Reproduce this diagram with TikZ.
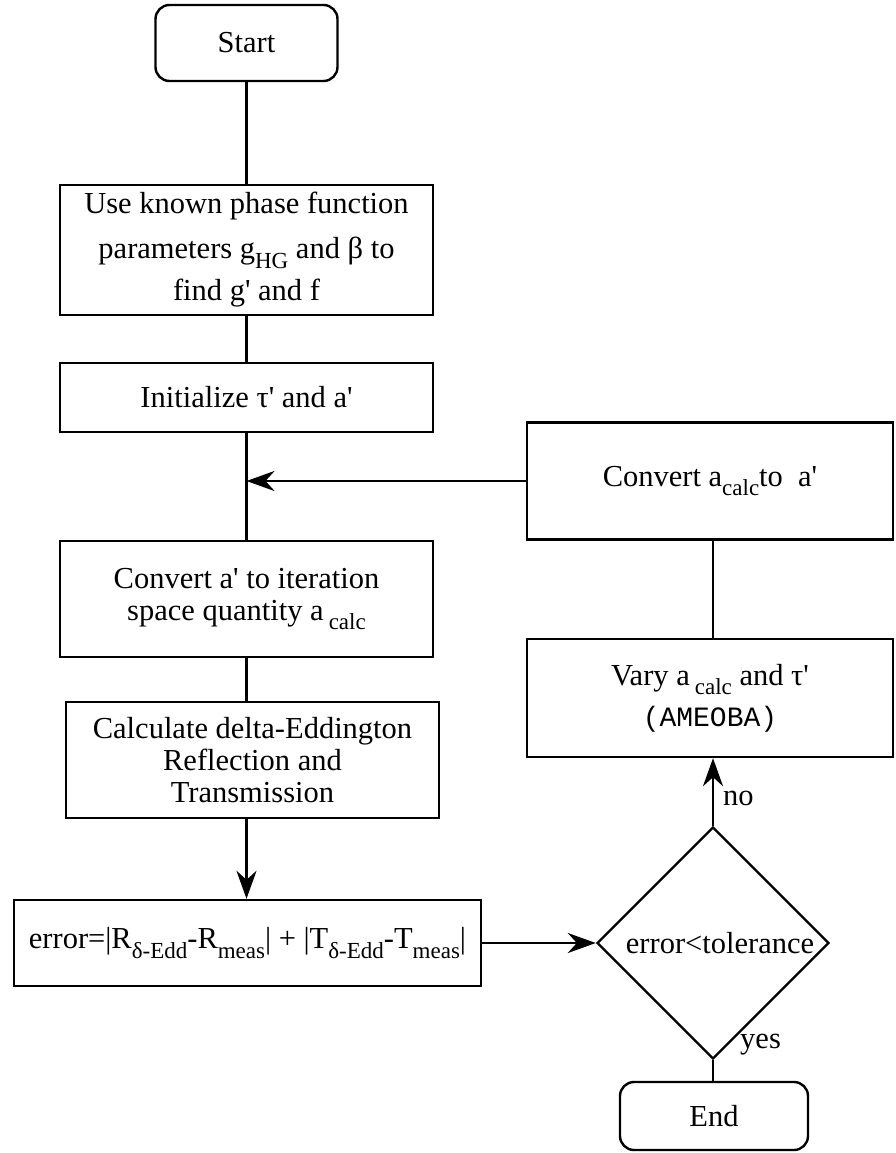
\documentclass[tikz,border=0pt]{standalone}
\usepackage{fontspec}
\setmainfont{Liberation Serif}
\setmonofont{Liberation Mono}
\usetikzlibrary{arrows.meta,shapes.geometric}
\newcommand*{\xMain}{246.5}
\newcommand*{\xSide}{710}
\newcommand*{\aprime}{\textquotesingle}
\newcommand*{\subtxt}[1]{\raisebox{-0.32em}{\fontsize{23}{23}\selectfont #1}}

\begin{document}
\begin{tikzpicture}[x=1pt,y=-1pt,
	link/.style={line width=2.4pt},
	flow/.style={line width=2.4pt,-{Stealth[length=28pt,width=20pt,inset=9pt]}},
	procbox/.style={draw,line width=2.4pt,inner sep=0pt,align=center,
		font=\fontsize{30.5}{32}\selectfont},
	termbox/.style={procbox,rounded corners=14pt},
	testbox/.style={procbox,diamond,minimum width=232pt,minimum height=232pt}]
	\useasboundingbox (0,0) rectangle (895,1153);
	
	% left column
	\node[termbox,minimum width=182pt,minimum height=76pt] (start) at (\xMain,43) {Start};
	\node[procbox,minimum width=373pt,minimum height=130pt] (phase) at (\xMain,250)
		{Use known phase function\\[13pt] parameters g\subtxt{HG} and β to\\[10pt] find g\aprime{} and f};
	\node[procbox,minimum width=373pt,minimum height=69pt] (init) at (\xMain,397.5)
		{Initialize τ\aprime{} and a\aprime};
	\node[procbox,minimum width=373pt,minimum height=116pt] (iter) at (\xMain,599)
		{Convert a\aprime{} to iteration\\ space quantity a\,\subtxt{calc}};
	\node[procbox,minimum width=373pt,minimum height=116pt] (delta) at (252.5,760)
		{Calculate delta-Eddington\\ Reflection and\\ Transmission};
	\node[procbox,minimum width=467pt,minimum height=86pt] (err) at (247.5,943)
		{error=|R\subtxt{δ-Edd}-R\subtxt{meas}| + |T\subtxt{δ-Edd}-T\subtxt{meas}|};
	
	% right column
	\node[procbox,minimum width=366pt,minimum height=117pt] (conv) at (\xSide,481)
		{Convert a\subtxt{calc}to~ a\aprime};
	\node[procbox,minimum width=366pt,minimum height=118pt] (vary) at (\xSide,698)
		{Vary a\,\subtxt{calc} and τ\aprime\\[9pt] {\ttfamily\fontsize{28}{30}\selectfont (AMEOBA)}};
	\node[testbox] (test) at (713,943) {\hspace*{14pt}error<tolerance};
	\node[termbox,minimum width=188pt,minimum height=68pt] (end) at (714,1116) {End};
	\node[font=\fontsize{30.5}{32}\selectfont,anchor=west,inner sep=0pt] (nolbl) at (723,798) {no};
	\node[font=\fontsize{30.5}{32}\selectfont,anchor=west,inner sep=0pt] (yeslbl) at (740,1045) {yes};
	
	% connectors
	\draw[link] (start.south) -- (start.south |- phase.north);
	\draw[link] (phase.south) -- (init.north);
	\draw[link] (init.south) -- (iter.north);
	\draw[link] (iter.south) -- (iter.south |- delta.north);
	\draw[flow] (iter.south |- delta.south) -- (iter.south |- err.north);
	\draw[flow] (err.east) -- (test.west);
	\draw[flow] (test.north) -- (test.north |- vary.south);
	\draw[link] (test.south) -- (test.south |- end.north);
	\draw[link] (vary.north -| test.north) -- (conv.south -| test.north);
	\draw[flow] (conv.west) -- (conv.west -| init.south);
\end{tikzpicture}
\end{document}
